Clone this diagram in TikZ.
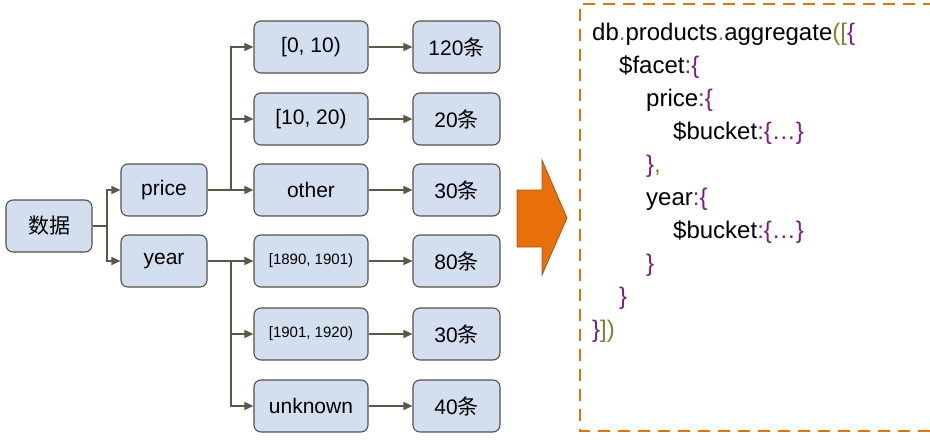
\documentclass[tikz,border=0pt]{standalone}
\usepackage{fontspec}
\setmainfont{Liberation Sans}
\newfontfamily\cjk{Noto Sans CJK SC}
\usetikzlibrary{arrows.meta}
\definecolor{boxfill}{HTML}{D3DFEF}
\definecolor{boxline}{HTML}{55514A}
\definecolor{connline}{HTML}{5E5646}
\definecolor{orangeA}{HTML}{E8700A}
\definecolor{orangeB}{HTML}{A4561A}
\definecolor{kwpurple}{HTML}{7A1A82}
\definecolor{kwolive}{HTML}{7F8030}
\tikzset{
  box/.style={draw=boxline, fill=boxfill, line width=1.1pt, rounded corners=7pt,
    inner sep=0pt, minimum height=52pt, font=\fontsize{21}{25}\selectfont},
  boxA/.style={box, minimum width=86pt},
  boxB/.style={box, minimum width=114pt},
  boxC/.style={box, minimum width=87pt},
  small/.style={font=\fontsize{15}{18}\selectfont},
  conn/.style={draw=connline, line width=1.1pt, -{Triangle[length=9pt,width=8pt]}},
  codeline/.style={anchor=base west, inner sep=0pt, font=\fontsize{24}{28}\selectfont}
}
\newcommand{\pu}[1]{\textcolor{kwpurple}{#1}}
\newcommand{\ol}[1]{\textcolor{kwolive}{#1}}
\begin{document}
\begin{tikzpicture}[x=1pt,y=-1pt]
\useasboundingbox (0,0) rectangle (930,447);
% tree nodes
\node[boxA] (data) at (49,226) {{\cjk 数据}};
\node[boxA] (price) at (164,190) {price};
\node[boxA] (year) at (164,261) {year};
\node[boxB] (p1) at (311,47) {[0, 10)};
\node[boxB] (p2) at (311,119) {[10, 20)};
\node[boxB] (p3) at (311,190) {other};
\node[boxB,small] (y1) at (311,261) {[1890, 1901)};
\node[boxB,small] (y2) at (311,334) {[1901, 1920)};
\node[boxB] (y3) at (311,406) {unknown};
\node[boxC] (c1) at (456.5,47) {120{\cjk 条}};
\node[boxC] (c2) at (456.5,119) {20{\cjk 条}};
\node[boxC] (c3) at (456.5,190) {30{\cjk 条}};
\node[boxC] (c4) at (456.5,261) {80{\cjk 条}};
\node[boxC] (c5) at (456.5,334) {30{\cjk 条}};
\node[boxC] (c6) at (456.5,406) {40{\cjk 条}};
% connectors
\coordinate (jd) at (107,226);
\coordinate (jp) at (231,190);
\coordinate (jy) at (231,261);
\draw[draw=connline, line width=1.1pt] (data.east) -- (jd);
\draw[conn] (jd) |- (price.west);
\draw[conn] (jd) |- (year.west);
\draw[draw=connline, line width=1.1pt] (price.east) -- (jp);
\draw[conn] (jp) |- (p1.west);
\draw[conn] (jp) |- (p2.west);
\draw[conn] (jp) -- (p3.west);
\draw[draw=connline, line width=1.1pt] (year.east) -- (jy);
\draw[conn] (jy) -- (y1.west);
\draw[conn] (jy) |- (y2.west);
\draw[conn] (jy) |- (y3.west);
\draw[conn] (p1) -- (c1);
\draw[conn] (p2) -- (c2);
\draw[conn] (p3) -- (c3);
\draw[conn] (y1) -- (c4);
\draw[conn] (y2) -- (c5);
\draw[conn] (y3) -- (c6);
% big orange arrow
\draw[fill=orangeA, draw=orangeB, line width=0.8pt, line join=miter]
  (517,190) -- (542,190) -- (542,160) -- (567,218) -- (542,275) -- (542,247) -- (517,247) -- cycle;
% dashed code frame
\draw[orangeA, line width=2.6pt, dash pattern=on 12pt off 8pt]
  (935,4) -- (580,4) -- (580,431) -- (935,431);
% code
\node[codeline] (l1) at (592,40) {db\ol{.}products\ol{.}aggregate\ol{([}\pu{\{}};
\node[codeline] (l2) at (619,73) {\$facet\pu{:\{}};
\node[codeline] (l3) at (646,106) {price\pu{:\{}};
\node[codeline] (l4) at (673,139) {\$bucket\pu{:\{…\}}};
\node[codeline] (l5) at (646,172) {\pu{\}}\ol{,}};
\node[codeline] (l6) at (646,205) {year\pu{:\{}};
\node[codeline] (l7) at (673,238) {\$bucket\pu{:\{…\}}};
\node[codeline] (l8) at (646,271) {\pu{\}}};
\node[codeline] (l9) at (619,304) {\pu{\}}};
\node[codeline] (l10) at (592,337) {\pu{\}}\ol{])}};
\end{tikzpicture}
\end{document}
